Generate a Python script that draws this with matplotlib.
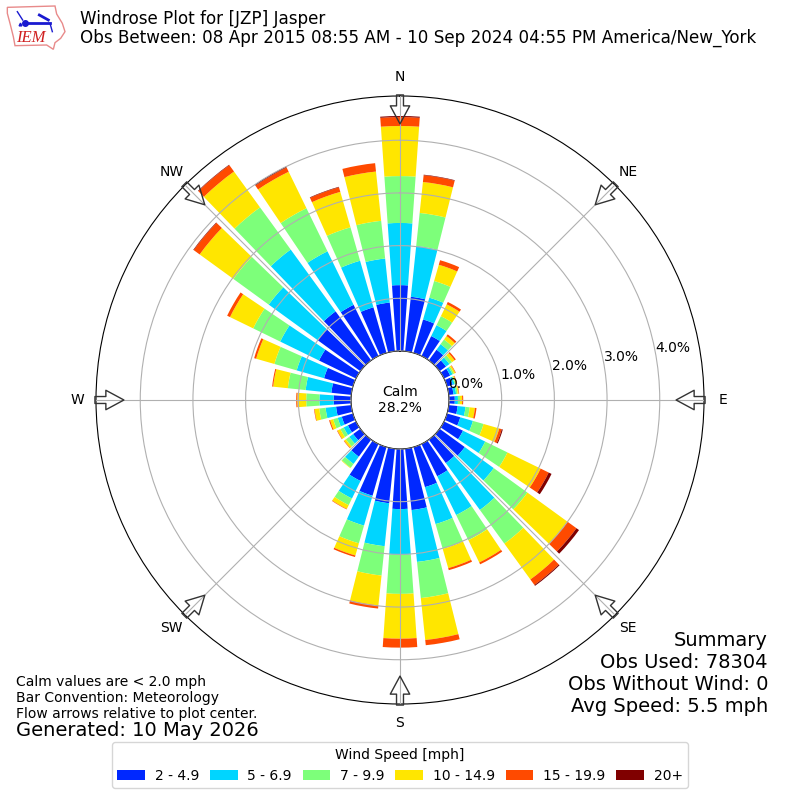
#!/usr/bin/env python3
"""IEM style windrose for [JZP] Jasper."""

import numpy as np
import matplotlib
matplotlib.use("Agg")
import matplotlib.pyplot as plt
from matplotlib.patches import Polygon

# direction of the bars, degrees from north, one per 10 deg
directions = list(range(0, 360, 10))

# frequency [%] per direction for each speed bin
speed_2_5 = [1.25, 1.04, .66, .42, .25, .15, .13, .11, .09, .11, .17, .26,
             .40, .59, .55, .68, .79, 1.17, 1.14, 1.04, .96, .78, .40, .17,
             .17, .22, .29, .33, .38, .57, .78, 1.00, 1.15, 1.08, .90, .93]
speed_5_7 = [1.18, .97, .43, .23, .13, .08, .05, .04, .05, .06, .15, .25,
             .47, .68, 1.10, .82, .73, .99, .87, .82, .59, .37, .17, .09,
             .09, .08, .20, .27, .49, .54, .82, 1.15, 1.45, 1.13, .92, .84]
speed_7_10 = [.89, .63, .33, .19, .11, .06, .03, .02, .03, .04, .08, .21,
              .47, .79, .79, .53, .49, .69, .74, .56, .35, .14, .09, .08,
              .07, .09, .12, .25, .34, .44, .57, .83, .99, .91, .66, .72]
speed_10_15 = [.95, .59, .32, .25, .08, .06, .03, .02, .02, .04, .10, .31,
               .70, .94, .84, .47, .38, .80, .85, .57, .24, .08, .01, .04,
               .06, .06, .09, .17, .28, .36, .49, .79, .84, .77, .70, .94]
speed_15_20 = [.17, .13, .09, .05, .04, .03, .01, .01, .01, .02, .03, .05,
               .17, .21, .13, .04, .04, .10, .17, .06, .03, .01, 0, .01,
               .01, .02, .01, .02, .02, .04, .06, .14, .15, .09, .09, .16]
speed_20_up = [.02, .01, 0, 0, 0, 0, 0, 0, 0, 0, 0, .02,
               .06, .06, .02, 0, 0, 0, 0, 0, 0, 0, 0, 0,
               0, 0, 0, 0, 0, 0, 0, .01, .01, .02, .01, 0]

speed_labels = ["2 - 4.9", "5 - 6.9", "7 - 9.9", "10 - 14.9", "15 - 19.9", "20+"]
speed_colors = ["#0028ff", "#00d5ff", "#7dff7a", "#ffe600", "#ff4a00", "#800000"]

compass_angles = [0, 45, 90, 135, 180, 225, 270, 315]
compass_labels = ["N", "NE", "E", "SE", "S", "SW", "W", "NW"]
ring_values = [0, 1, 2, 3, 4]
ring_labels = ["0.0%", "1.0%", "2.0%", "3.0%", "4.0%"]

W = H = 800
RMAX = 4.84
RORIGIN = -0.93
ARROW_TIP = 4.31

fig = plt.figure(figsize=(8, 8), dpi=100)
ax = fig.add_axes([96 / W, 96 / H, 608 / W, 608 / H], projection="polar")
ax.set_theta_zero_location("N")
ax.set_theta_direction(-1)
ax.set_axisbelow(False)

theta = np.deg2rad(directions)
width = np.deg2rad(8.0)
bottom = np.zeros(len(directions))
series = [speed_2_5, speed_5_7, speed_7_10, speed_10_15, speed_15_20, speed_20_up]
handles = []
for vals, color, label in zip(series, speed_colors, speed_labels):
    bars = ax.bar(theta, vals, width=width, bottom=bottom, color=color,
                  linewidth=0, label=label)
    handles.append(bars)
    bottom = bottom + np.array(vals)

ax.set_rorigin(RORIGIN)
ax.set_rmin(0)
ax.set_rmax(RMAX)
ax.set_rgrids(ring_values, ring_labels)
ax.set_rlabel_position(80)
ax.set_thetagrids(compass_angles, compass_labels)
ax.tick_params(axis="x", pad=3)

ax.text(0.5, 0.5, "Calm\n28.2%", transform=ax.transAxes, ha="center",
        va="center", fontsize=10, zorder=6)

# flow arrows, rim towards the plot center
for ang in compass_angles:
    ax.annotate("", xy=(np.deg2rad(ang), ARROW_TIP), xycoords="data",
                xytext=(np.deg2rad(ang), RMAX + 0.02), textcoords="data",
                arrowprops=dict(facecolor="none", edgecolor="#333333", lw=1.0,
                                width=5, headwidth=14, headlength=13, shrink=0),
                annotation_clip=False, zorder=7)

fig.text(80 / W, 1 - 24.5 / H, "Windrose Plot for [JZP] Jasper", fontsize=12.02)
fig.text(80 / W, 1 - 42.5 / H,
         "Obs Between: 08 Apr 2015 08:55 AM - 10 Sep 2024 04:55 PM America/New_York",
         fontsize=12.02)

fig.text(16 / W, 1 - 718 / H,
         "Calm values are < 2.0 mph\nBar Convention: Meteorology\n"
         "Flow arrows relative to plot center.", fontsize=10, va="baseline")
fig.text(16 / W, 1 - 736 / H, "Generated: 10 May 2026", fontsize=14)
fig.text(768 / W, 1 - 712.5 / H,
         "Summary\nObs Used: 78304\nObs Without Wind: 0\nAvg Speed: 5.5 mph",
         fontsize=14, ha="right", va="baseline")

fig.legend(handles=handles, title="Wind Speed [mph]", ncol=6, loc="lower center",
           bbox_to_anchor=(0.5, 1 - 795 / H), fontsize=10, title_fontsize=10,
           columnspacing=0.77, handletextpad=0.7)

# logo, drawn in its own small axes (3x pixel units)
logo = fig.add_axes([0, 1 - 55 / H, 70 / W, 55 / H])
logo.set_xlim(0, 210)
logo.set_ylim(165, 0)
logo.axis("off")
iowa = [(22, 22), (165, 18), (170, 42), (187, 70), (195, 95), (182, 115),
        (165, 128), (160, 148), (140, 135), (45, 137), (40, 110), (30, 70),
        (22, 40)]
logo.add_patch(Polygon(iowa, closed=True, fill=False, edgecolor="#e88a8a", lw=1))
logo.plot([75, 150], [70, 70], color="#1a1ad0", lw=2)
logo.plot([75], [70], "o", color="#1a1ad0", ms=4)
logo.plot([52, 68], [35, 60], color="#1a1ad0", lw=1)
logo.plot([118, 145], [45, 60], color="#1a1ad0", lw=2)
logo.plot([150, 157], [70, 95], color="#1a1ad0", lw=1)
logo.plot([60], [72], "^", color="#1a1ad0", ms=2)
logo.text(92, 115, "IEM", color="#d02020", fontsize=12, style="italic",
          family="Liberation Serif", ha="center", va="center")

fig.savefig("out.png", dpi=100)
